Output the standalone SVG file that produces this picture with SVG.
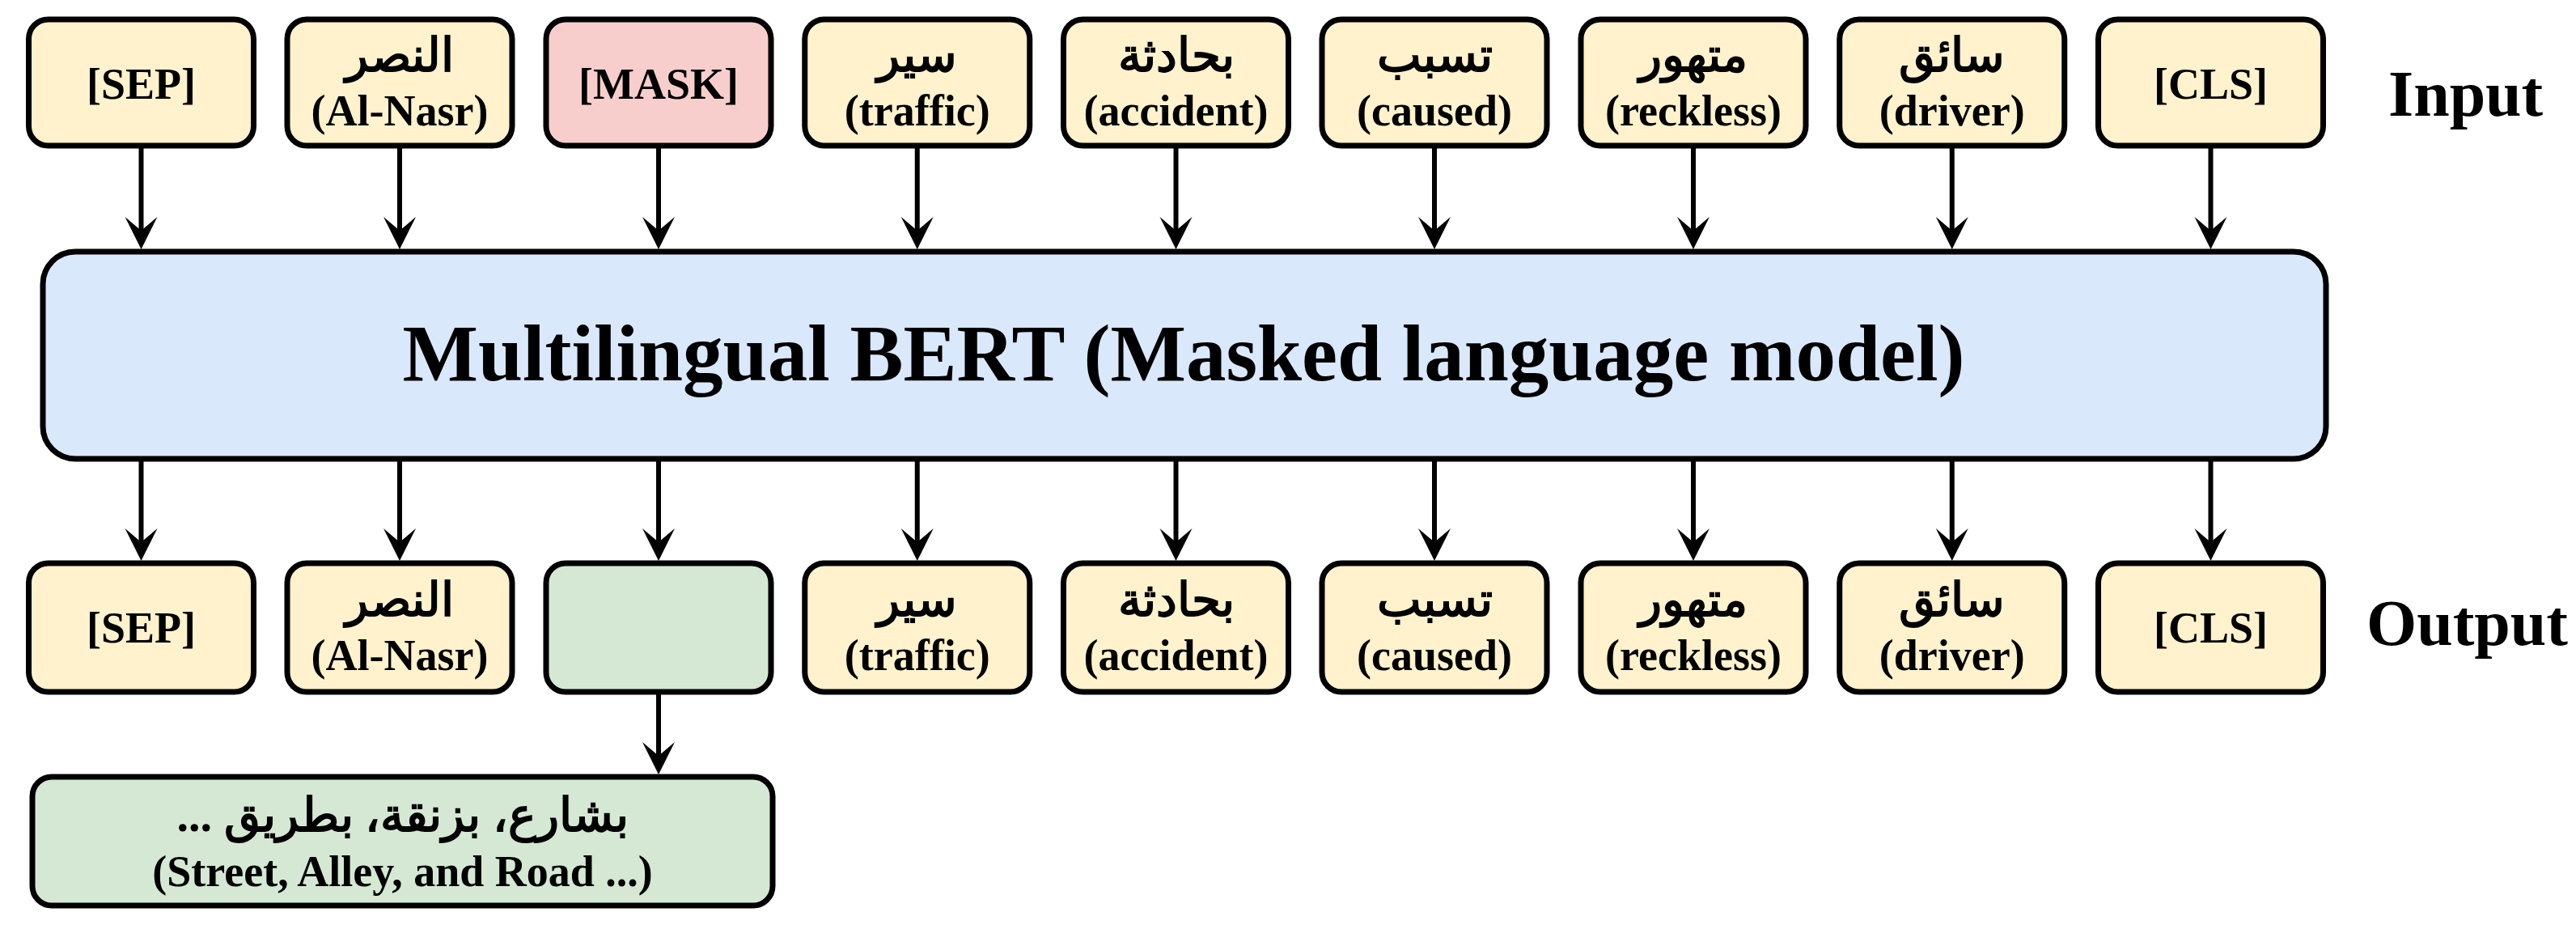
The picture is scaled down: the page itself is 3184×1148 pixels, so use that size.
<svg xmlns="http://www.w3.org/2000/svg" width="3184" height="1148" viewBox="0 0 3184 1148">
<style>
.box{stroke:#000;stroke-width:7}
.tok{fill:#FFF2CC}
.mask{fill:#F8CECC}
.pred{fill:#D5E8D4}
.bert{fill:#DAE8FC}
text{font-family:"Liberation Serif","Times New Roman",serif;font-weight:bold;fill:#000;text-anchor:middle}
.en{font-size:54px}
.ar{font-size:58px}
.big{font-size:99px}
.lab{font-size:80px;text-anchor:start}
#connectors line{stroke:#000;stroke-width:6;marker-end:url(#ah)}
</style>
<defs>
<marker id="ah" markerUnits="userSpaceOnUse" viewBox="-25 -25 50 50" markerWidth="50" markerHeight="50" refX="0" refY="0" orient="auto">
<path d="M20,0 L-20,-20 L-3,0 L-20,20 Z" fill="#000"/>
</marker>
</defs>
<rect width="3184" height="1148" fill="#fff"/>

<g id="connectors">
<line x1="174.5" y1="183" x2="174.5" y2="288"/>
<line x1="494" y1="183" x2="494" y2="288"/>
<line x1="814" y1="183" x2="814" y2="288"/>
<line x1="1133.75" y1="183" x2="1133.75" y2="288"/>
<line x1="1453.5" y1="183" x2="1453.5" y2="288"/>
<line x1="1773" y1="183" x2="1773" y2="288"/>
<line x1="2093" y1="183" x2="2093" y2="288"/>
<line x1="2412.75" y1="183" x2="2412.75" y2="288"/>
<line x1="2732.5" y1="183" x2="2732.5" y2="288"/>
<line x1="174.5" y1="570" x2="174.5" y2="673"/>
<line x1="494" y1="570" x2="494" y2="673"/>
<line x1="814" y1="570" x2="814" y2="673"/>
<line x1="1133.75" y1="570" x2="1133.75" y2="673"/>
<line x1="1453.5" y1="570" x2="1453.5" y2="673"/>
<line x1="1773" y1="570" x2="1773" y2="673"/>
<line x1="2093" y1="570" x2="2093" y2="673"/>
<line x1="2412.75" y1="570" x2="2412.75" y2="673"/>
<line x1="2732.5" y1="570" x2="2732.5" y2="673"/>
<line x1="814" y1="858" x2="814" y2="937"/>
</g>

<g id="in-sep"><rect class="box tok" x="35.5" y="24" width="278" height="156" rx="24"/><text class="en" x="174.5" y="122">[SEP]</text></g>
<g id="in-nasr"><rect class="box tok" x="355" y="24" width="278" height="156" rx="24"/><text class="ar" x="494" y="88">النصر</text><text class="en" x="494" y="155">(Al-Nasr)</text></g>
<g id="in-mask"><rect class="box mask" x="675" y="24" width="278" height="156" rx="24"/><text class="en" x="814" y="122">[MASK]</text></g>
<g id="in-traffic"><rect class="box tok" x="994.75" y="24" width="278" height="156" rx="24"/><text class="ar" x="1133.75" y="88">سير</text><text class="en" x="1133.75" y="155">(traffic)</text></g>
<g id="in-accident"><rect class="box tok" x="1314.5" y="24" width="278" height="156" rx="24"/><text class="ar" x="1453.5" y="88">بحادثة</text><text class="en" x="1453.5" y="155">(accident)</text></g>
<g id="in-caused"><rect class="box tok" x="1634" y="24" width="278" height="156" rx="24"/><text class="ar" x="1773" y="88">تسبب</text><text class="en" x="1773" y="155">(caused)</text></g>
<g id="in-reckless"><rect class="box tok" x="1954" y="24" width="278" height="156" rx="24"/><text class="ar" x="2093" y="88">متهور</text><text class="en" x="2093" y="155">(reckless)</text></g>
<g id="in-driver"><rect class="box tok" x="2273.75" y="24" width="278" height="156" rx="24"/><text class="ar" x="2412.75" y="88">سائق</text><text class="en" x="2412.75" y="155">(driver)</text></g>
<g id="in-cls"><rect class="box tok" x="2593.5" y="24" width="278" height="156" rx="24"/><text class="en" x="2732.5" y="122">[CLS]</text></g>
<g id="label-input"><text class="lab" x="2952" y="143">Input</text></g>

<g id="bert"><rect class="box bert" x="53" y="311" width="2822" height="256" rx="40"/><text class="big" x="1463" y="470">Multilingual BERT (Masked language model)</text></g>

<g id="out-sep"><rect class="box tok" x="35.5" y="696" width="278" height="159" rx="24"/><text class="en" x="174.5" y="794">[SEP]</text></g>
<g id="out-nasr"><rect class="box tok" x="355" y="696" width="278" height="159" rx="24"/><text class="ar" x="494" y="761">النصر</text><text class="en" x="494" y="828">(Al-Nasr)</text></g>
<g id="out-mask"><rect class="box pred" x="675" y="696" width="278" height="159" rx="24"/></g>
<g id="out-traffic"><rect class="box tok" x="994.75" y="696" width="278" height="159" rx="24"/><text class="ar" x="1133.75" y="761">سير</text><text class="en" x="1133.75" y="828">(traffic)</text></g>
<g id="out-accident"><rect class="box tok" x="1314.5" y="696" width="278" height="159" rx="24"/><text class="ar" x="1453.5" y="761">بحادثة</text><text class="en" x="1453.5" y="828">(accident)</text></g>
<g id="out-caused"><rect class="box tok" x="1634" y="696" width="278" height="159" rx="24"/><text class="ar" x="1773" y="761">تسبب</text><text class="en" x="1773" y="828">(caused)</text></g>
<g id="out-reckless"><rect class="box tok" x="1954" y="696" width="278" height="159" rx="24"/><text class="ar" x="2093" y="761">متهور</text><text class="en" x="2093" y="828">(reckless)</text></g>
<g id="out-driver"><rect class="box tok" x="2273.75" y="696" width="278" height="159" rx="24"/><text class="ar" x="2412.75" y="761">سائق</text><text class="en" x="2412.75" y="828">(driver)</text></g>
<g id="out-cls"><rect class="box tok" x="2593.5" y="696" width="278" height="159" rx="24"/><text class="en" x="2732.5" y="794">[CLS]</text></g>
<g id="label-output"><text class="lab" x="2925" y="797">Output</text></g>

<g id="prediction"><rect class="box pred" x="40" y="960" width="915" height="159" rx="24"/><text class="ar" x="497.5" y="1027" direction="rtl">بشارع، بزنقة، بطريق ...</text><text class="en" x="497.5" y="1095">(Street, Alley, and Road ...)</text></g>
</svg>
